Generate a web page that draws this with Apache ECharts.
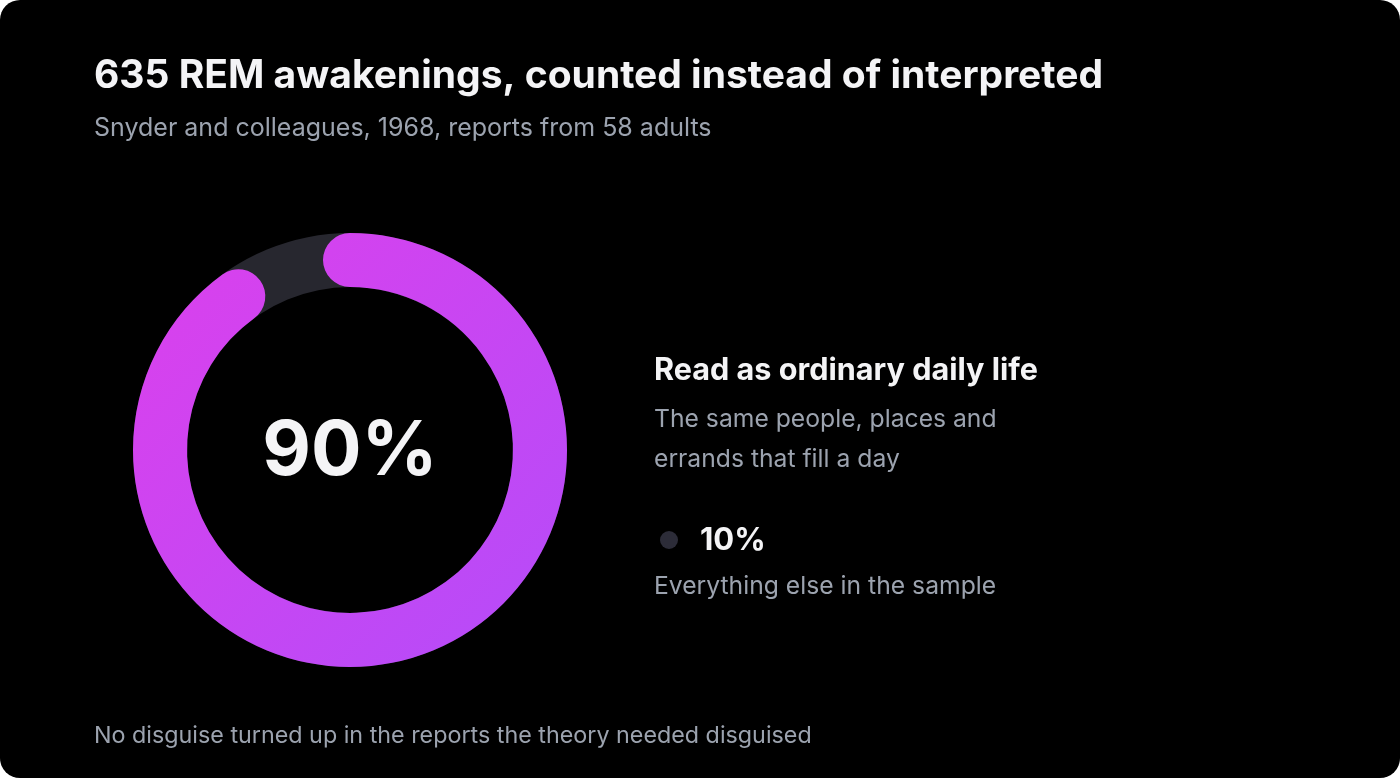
<!DOCTYPE html>
<html>
<head>
<meta charset="utf-8">
<script src="https://cdn.jsdelivr.net/npm/echarts@6/dist/echarts.min.js"></script>
<style>
html,body{margin:0;padding:0;background:#ffffff;}
#chart{width:1400px;height:778px;background:#000000;border-radius:20px;overflow:hidden;}
</style>
</head>
<body>
<div id="chart"></div>
<script>
const titleText = '635 REM awakenings, counted instead of interpreted';
const subtitleText = 'Snyder and colleagues, 1968, reports from 58 adults';
const footerText = 'No disguise turned up in the reports the theory needed disguised';
const categories = ['Read as ordinary daily life', 'Everything else in the sample'];
const values = [90, 10];
const mainDescLines = ['The same people, places and', 'errands that fill a day'];

const FONT = 'Inter, "Noto Sans", sans-serif';
const WHITE = '#f4f4f6';
const GRAY = '#9ca3af';
const TRACK = '#27272f';

const chart = echarts.init(document.getElementById('chart'), null, {renderer: 'canvas'});

function txt(x, y, text, size, weight, fill) {
  return {type: 'text', style: {x: x, y: y, text: text, fontFamily: FONT, fontSize: size, fontWeight: weight, fill: fill, verticalAlign: 'middle', align: 'left'}};
}

const option = {
  backgroundColor: 'transparent',
  series: [{
    type: 'gauge',
    center: [350, 450],
    radius: 217,
    startAngle: 90,
    endAngle: -270,
    min: 0,
    max: values[0] + values[1],
    pointer: {show: false},
    axisTick: {show: false},
    splitLine: {show: false},
    axisLabel: {show: false},
    anchor: {show: false},
    title: {show: false},
    axisLine: {
      roundCap: false,
      lineStyle: {width: 54, color: [[1, TRACK]]}
    },
    progress: {
      show: true,
      width: 54,
      roundCap: true,
      itemStyle: {
        color: new echarts.graphic.LinearGradient(0, 0, 1, 1, [
          {offset: 0, color: '#dc40ec'},
          {offset: 1, color: '#b44cf9'}
        ])
      }
    },
    detail: {
      show: true,
      offsetCenter: [0, 2],
      valueAnimation: false,
      formatter: '{value}%',
      fontFamily: FONT,
      fontSize: 75,
      fontWeight: 700,
      color: WHITE
    },
    data: [{value: values[0], name: categories[0]}],
    animation: false
  }],
  graphic: [
    txt(94, 76, titleText, 39, 700, WHITE),
    txt(94, 128, subtitleText, 25, 400, GRAY),
    txt(654, 371, categories[0], 30.6, 700, WHITE),
    txt(654, 420, mainDescLines[0], 24.7, 400, GRAY),
    txt(654, 460, mainDescLines[1], 24.7, 400, GRAY),
    {type: 'circle', shape: {cx: 669, cy: 540, r: 9}, style: {fill: '#2c2c38'}},
    txt(700, 541, values[1] + '%', 31, 700, WHITE),
    txt(654, 587, categories[1], 24.7, 400, GRAY),
    txt(94, 736, footerText, 23.3, 400, GRAY)
  ]
};
chart.setOption(option);
</script>
</body>
</html>
